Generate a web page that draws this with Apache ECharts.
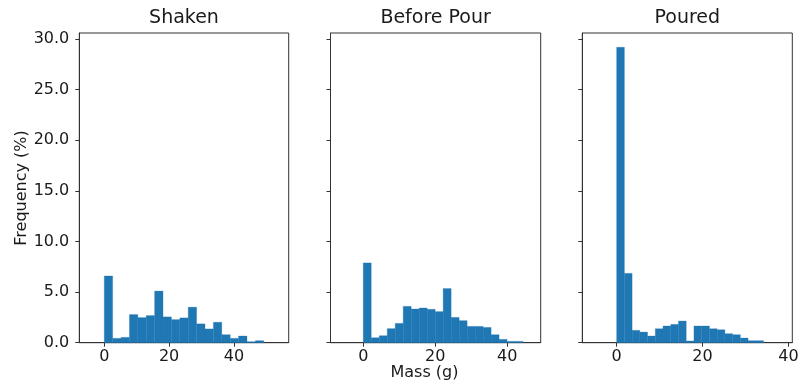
<!DOCTYPE html>
<html><head><meta charset="utf-8">
<script src="https://cdn.jsdelivr.net/npm/echarts@6/dist/echarts.min.js"></script>
<style>html,body{margin:0;padding:0;background:#fff}#c{width:802px;height:388px}</style>
</head><body><div id="c"></div>
<script>
// ---- data ----
const panelTitles = ['Shaken', 'Before Pour', 'Poured'];
const shakenHeights = [6.59, 0.43, 0.53, 2.78, 2.48, 2.68, 5.10, 2.55, 2.28, 2.45, 3.51, 1.86, 1.36, 2.02, 0.79, 0.43, 0.66, 0.10, 0.20];
const shakenBinStart = 0;
const shakenBinWidth = 2.59;
const beforeHeights = [7.88, 0.49, 0.69, 1.39, 1.91, 3.59, 3.33, 3.43, 3.30, 3.07, 5.35, 2.50, 2.18, 1.61, 1.61, 1.51, 0.79, 0.33, 0.13, 0.13];
const beforeBinStart = 0;
const beforeBinWidth = 2.22;
const pouredHeights = [29.18, 6.85, 1.22, 1.05, 0.66, 1.38, 1.65, 1.81, 2.14, 0.17, 1.65, 1.65, 1.38, 1.28, 0.89, 0.79, 0.46, 0.20, 0.20];
const pouredBinStart = 0;
const pouredBinWidth = 1.8;
const xTickValues = [0, 20, 40];
const yTickValues = [0, 5, 10, 15, 20, 25, 30];
const xLabel = 'Mass (g)';
const yLabel = 'Frequency (%)';

// ---- build ----
function bins(heights, start, width) {
  return heights.map((h, i) => [start + i * width, start + (i + 1) * width, h]);
}
const panels = [
  bins(shakenHeights, shakenBinStart, shakenBinWidth),
  bins(beforeHeights, beforeBinStart, beforeBinWidth),
  bins(pouredHeights, pouredBinStart, pouredBinWidth)
];
const xRanges = [[-7.7, 56.9], [-9.1, 49.3], [-8.0, 40.9]];
const gridLefts = [79.3, 330.5, 582.3];
const gridWidths = [209.4, 210.2, 210];
const TXT = '#1a1a1a';
const LINE = '#333';
const FONT = 'DejaVu Sans';

const grids = [], xAxes = [], yAxes = [], series = [], graphics = [];
panels.forEach((data, i) => {
  grids.push({left: gridLefts[i], top: 33, width: gridWidths[i], height: 309.7,
    show: true, borderColor: LINE, borderWidth: 1, backgroundColor: 'transparent'});
  xAxes.push({type: 'value', gridIndex: i, min: xRanges[i][0], max: xRanges[i][1],
    splitLine: {show: false},
    axisLine: {show: true, onZero: false, lineStyle: {color: LINE, width: 1}},
    axisTick: {show: true, length: 4, customValues: xTickValues, lineStyle: {color: LINE}},
    axisLabel: {customValues: xTickValues, color: TXT, fontFamily: FONT, fontSize: 16, margin: 6}
  });
  yAxes.push({type: 'value', gridIndex: i, min: 0, max: 30.59,
    splitLine: {show: false},
    axisLine: {show: true, onZero: false, lineStyle: {color: LINE, width: 1}},
    axisTick: {show: true, length: 4, customValues: yTickValues, lineStyle: {color: LINE}},
    axisLabel: {show: i === 0, customValues: yTickValues, color: TXT, fontFamily: FONT, fontSize: 16, margin: 10,
      formatter: v => v.toFixed(1)}
  });
  series.push({type: 'custom', xAxisIndex: i, yAxisIndex: i, data: data,
    encode: {x: [0, 1], y: 2},
    renderItem: function (params, api) {
      const p0 = api.coord([api.value(0), api.value(2)]);
      const p1 = api.coord([api.value(1), 0]);
      return {type: 'rect', shape: {x: p0[0], y: p0[1], width: p1[0] - p0[0], height: p1[1] - p0[1]},
        style: {fill: '#1f77b4', stroke: '#1f77b4', lineWidth: 0.3}};
    }
  });
  graphics.push({type: 'text', x: gridLefts[i] + gridWidths[i] / 2, y: 18,
    style: {text: panelTitles[i], font: '19px ' + FONT, fill: TXT, textAlign: 'center', textVerticalAlign: 'middle'}});
});
graphics.push({type: 'text', x: 424.5, y: 373,
  style: {text: xLabel, font: '16px ' + FONT, fill: TXT, textAlign: 'center', textVerticalAlign: 'middle'}});
graphics.push({type: 'text', x: 21.5, y: 188, rotation: Math.PI / 2,
  style: {text: yLabel, font: '16px ' + FONT, fill: TXT, textAlign: 'center', textVerticalAlign: 'middle'}});

const chart = echarts.init(document.getElementById('c'), null, {renderer: 'canvas'});
chart.setOption({
  animation: false,
  backgroundColor: '#fff',
  grid: grids, xAxis: xAxes, yAxis: yAxes, series: series, graphic: graphics
});
</script></body></html>
